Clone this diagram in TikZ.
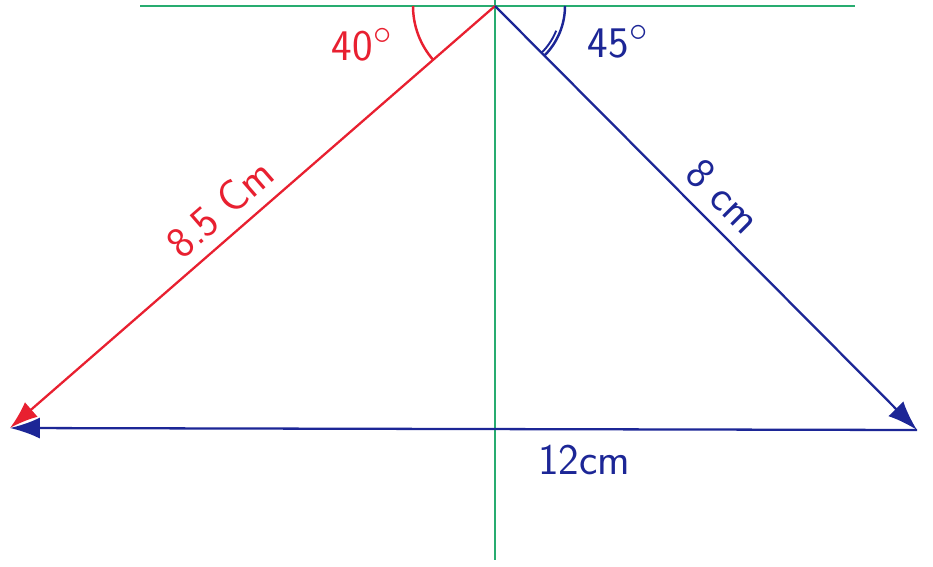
\documentclass[tikz,border=0pt]{standalone}
\usepackage{tikz}
\usetikzlibrary{arrows.meta}

\definecolor{penred}{RGB}{232,32,48}
\definecolor{penblue}{RGB}{28,38,150}
\definecolor{pengreen}{RGB}{40,172,112}

\begin{document}
\begin{tikzpicture}[x=0.02cm, y=0.02cm,
  guide/.style={pengreen, line width=1.2pt},
  redvec/.style={penred, line width=1.3pt, -{Latex[length=16pt,width=11pt]}},
  bluevec/.style={penblue, line width=1.3pt, -{Latex[length=17pt,width=12pt]}},
  redtxt/.style={penred, font=\Huge\sffamily, inner sep=0pt},
  bluetxt/.style={penblue, font=\Huge\sffamily, inner sep=0pt}]
\useasboundingbox (0,0) rectangle (933,566);
\coordinate (O) at (495,560);
\coordinate (A) at (10,138);
\coordinate (B) at (917,136);
\coordinate (hl) at (140,560);
\coordinate (hr) at (855,560);
\coordinate (vt) at (495,566);
\coordinate (vb) at (495,6);
\draw[guide] (hl) -- (hr);
\draw[guide] (vt) -- (vb);
\draw[redvec] (O) -- (A);
\draw[bluevec] (O) -- (B);
\draw[bluevec] (B) -- (A);
\draw[penred, line width=1.4pt] (O) ++(180:82) arc[start angle=180, end angle=221, radius=82];
\draw[penblue, line width=1.4pt] (O) ++(0:70) arc[start angle=0, end angle=-45, radius=70];
\draw[penblue, line width=1.1pt] (O) ++(-22:66) arc[start angle=-22, end angle=-45, radius=66];
\node[redtxt] (ang40) at (362,521) {40$^\circ$};
\node[bluetxt] (ang45) at (618,524) {45$^\circ$};
\node[redtxt, rotate=41] (len85) at (220,358) {8.5 Cm};
\node[bluetxt, rotate=-45] (len8) at (724,370) {8 cm};
\node[bluetxt] (len12) at (584,106) {12cm};
\end{tikzpicture}
\end{document}
